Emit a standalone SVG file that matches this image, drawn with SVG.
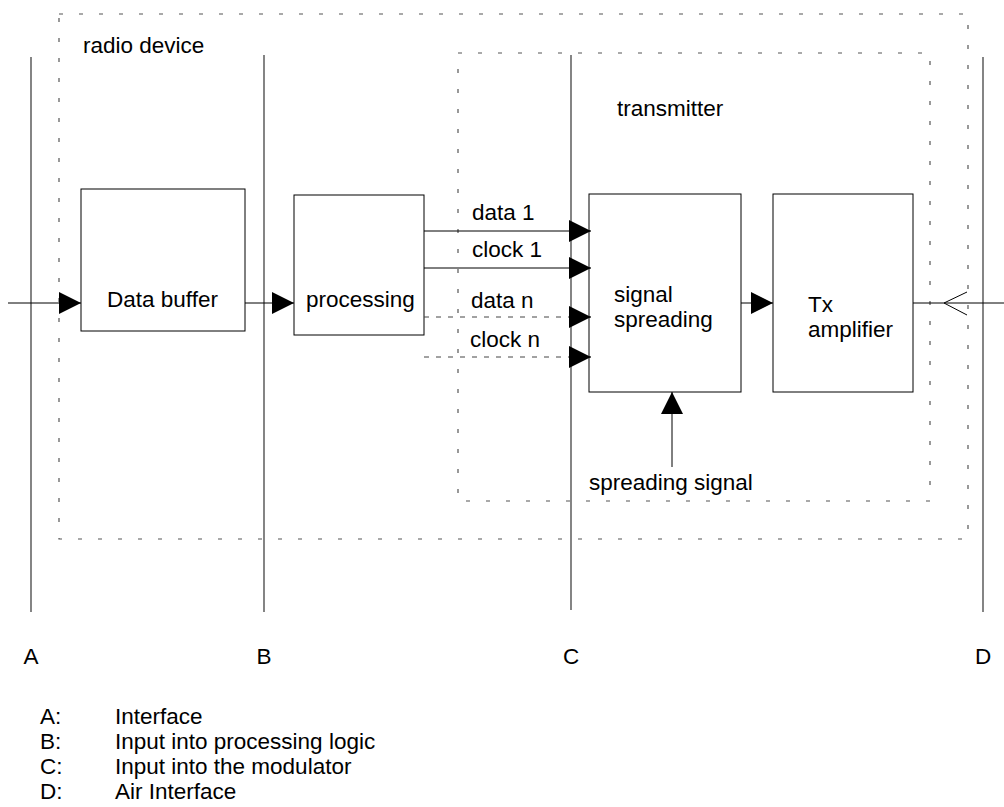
<svg xmlns="http://www.w3.org/2000/svg" width="1004" height="807" viewBox="0 0 1004 807">
<style>
text{font-family:"Liberation Sans",Arial,sans-serif;font-size:22.5px;fill:#000}
.box{fill:none;stroke:#000;stroke-width:1}
.frame{fill:none;stroke:#555;stroke-width:1.2;stroke-dasharray:4 16}
.ref{stroke:#333;stroke-width:1.2}
.sig{stroke:#000;stroke-width:1;fill:none}
.dash{stroke:#444;stroke-width:1;stroke-dasharray:5 7;fill:none}
</style>
<defs>
<marker id="ah" markerUnits="userSpaceOnUse" markerWidth="22" markerHeight="22" refX="22" refY="11" orient="auto">
<path d="M0,0 L22,11 L0,22 Z" fill="#000"/>
</marker>
</defs>
<g id="frames">
<rect class="frame" x="59" y="14" width="909" height="525"/>
<rect class="frame" x="458" y="53" width="472" height="448"/>
<text x="83" y="53">radio device</text>
<text x="617" y="116">transmitter</text>
</g>
<g id="ref-lines">
<line class="ref" x1="31" y1="57" x2="31" y2="612"/>
<line class="ref" x1="264" y1="55" x2="264" y2="612"/>
<line class="ref" x1="571" y1="55" x2="571" y2="610"/>
<line class="ref" x1="983" y1="57" x2="983" y2="612"/>
<text x="31" y="664" text-anchor="middle">A</text>
<text x="264" y="664" text-anchor="middle">B</text>
<text x="571" y="664" text-anchor="middle">C</text>
<text x="983" y="664" text-anchor="middle">D</text>
</g>
<g id="data-buffer">
<rect class="box" x="81" y="189" width="164" height="142"/>
<text x="107" y="307">Data buffer</text>
</g>
<g id="processing">
<rect class="box" x="294" y="195" width="130" height="140"/>
<text x="306" y="307">processing</text>
</g>
<g id="signal-spreading">
<rect class="box" x="589" y="194" width="152" height="198"/>
<text x="614" y="302">signal</text>
<text x="614" y="327">spreading</text>
</g>
<g id="tx-amplifier">
<rect class="box" x="773" y="194" width="140" height="198"/>
<text x="808" y="312">Tx</text>
<text x="808" y="337">amplifier</text>
</g>
<g id="connectors">
<line class="sig" x1="8" y1="303" x2="81" y2="303" marker-end="url(#ah)"/>
<line class="sig" x1="245" y1="303" x2="294" y2="303" marker-end="url(#ah)"/>
<line class="sig" x1="424" y1="231" x2="591" y2="231" marker-end="url(#ah)"/>
<line class="sig" x1="424" y1="268" x2="591" y2="268" marker-end="url(#ah)"/>
<line class="dash" x1="424" y1="317" x2="572" y2="317"/>
<line class="sig" x1="572" y1="317" x2="591" y2="317" marker-end="url(#ah)"/>
<line class="dash" x1="424" y1="357" x2="572" y2="357"/>
<line class="sig" x1="572" y1="357" x2="591" y2="357" marker-end="url(#ah)"/>
<line class="sig" x1="741" y1="303" x2="773" y2="303" marker-end="url(#ah)"/>
<line class="sig" x1="672" y1="467" x2="672" y2="392" marker-end="url(#ah)"/>
<line class="sig" x1="913" y1="303" x2="1004" y2="303"/>
<polyline class="sig" points="967,292 944,303 967,315"/>
<text x="472" y="220">data 1</text>
<text x="472" y="257">clock 1</text>
<text x="471" y="308">data n</text>
<text x="470" y="347">clock n</text>
<text x="589" y="490">spreading signal</text>
</g>
<g id="legend">
<text x="40" y="724">A:</text><text x="115" y="724">Interface</text>
<text x="40" y="749">B:</text><text x="115" y="749">Input into processing logic</text>
<text x="40" y="774">C:</text><text x="115" y="774">Input into the modulator</text>
<text x="40" y="799">D:</text><text x="115" y="799">Air Interface</text>
</g>
</svg>
